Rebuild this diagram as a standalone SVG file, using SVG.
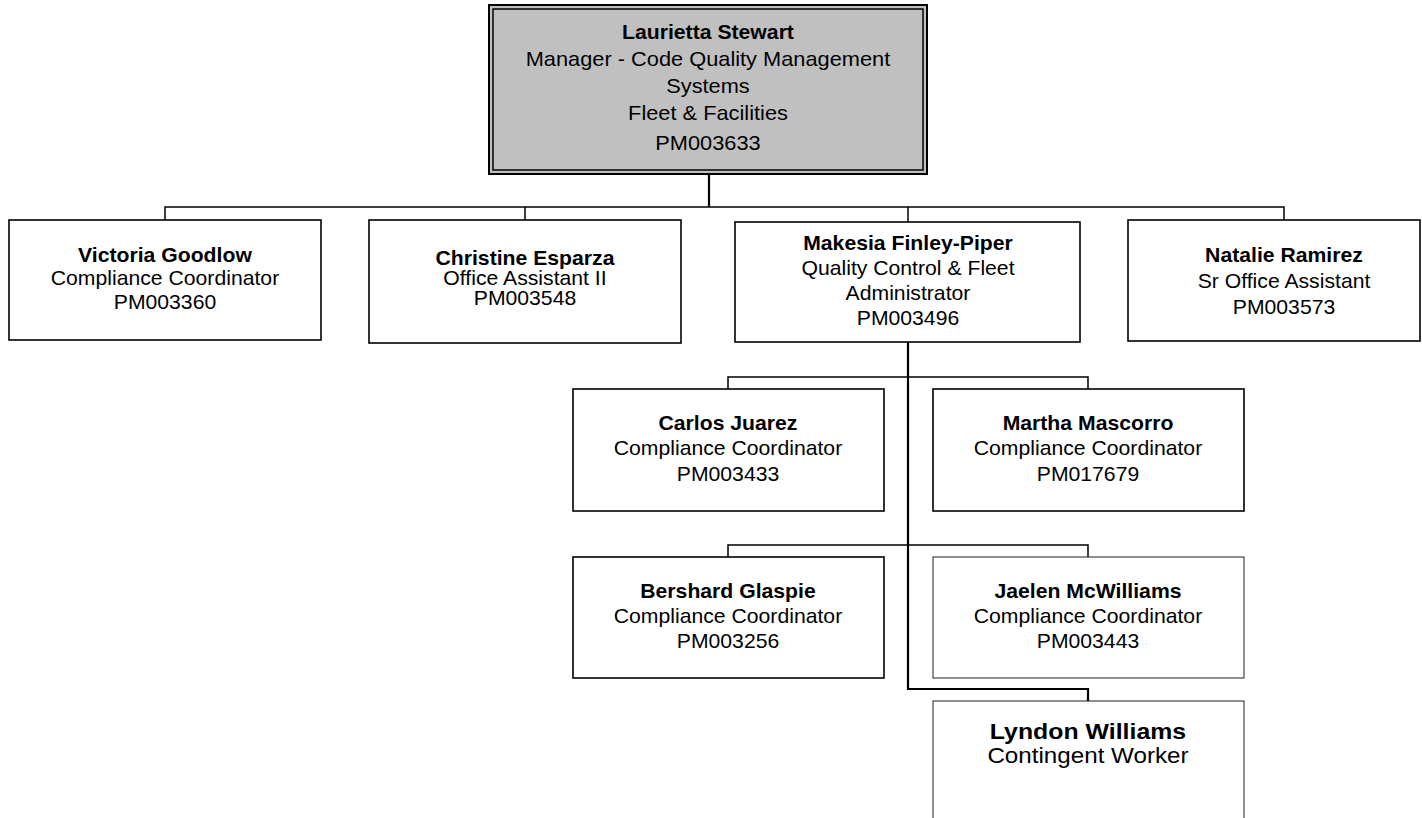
<svg xmlns="http://www.w3.org/2000/svg" width="1422" height="818" viewBox="0 0 1422 818">
<style>
.bg{fill:#ffffff}
.box{fill:#ffffff;stroke:#000000;stroke-width:1.6}
.thin{fill:#ffffff;stroke:#222222;stroke-width:1}
.root{fill:#c0c0c0;stroke:#000000;stroke-width:2}
.rooti{fill:none;stroke:#000000;stroke-width:1.5}
.ln{fill:none;stroke:#000000;stroke-width:1.5}
.lnb{fill:none;stroke:#000000;stroke-width:2.2}
text{font-family:"Liberation Sans",Arial,sans-serif;text-anchor:middle;fill:#000000;transform-box:fill-box;transform-origin:center;}
.t{font-size:20px;transform:scaleX(1.06)}
.tb{font-size:20px;font-weight:bold;transform:scaleX(1.06)}
.rt{font-size:20px;transform:scaleX(1.09)}
.rtb{font-size:20px;font-weight:bold;transform:scaleX(1.06)}
.lt{font-size:22px;transform:scaleX(1.1)}
.ltb{font-size:22px;font-weight:bold;transform:scaleX(1.13)}
</style>
<rect class="bg" x="0" y="0" width="1422" height="818"/>
<g id="connectors">
<path class="lnb" d="M709,174 V207"/>
<path class="ln" d="M165,220 V207 H1284 V220"/>
<path class="ln" d="M525,207 V220"/>
<path class="ln" d="M908,207 V222"/>
<path class="lnb" d="M908,342 V689 H1088 V701"/>
<path class="ln" d="M728,389 V377 H1088 V389"/>
<path class="ln" d="M728,557 V545 H1088 V557"/>
</g>
<g id="n-laurietta">
<rect class="root" x="489" y="5" width="438" height="169"/>
<rect class="rooti" x="493" y="9" width="430" height="161"/>
<text class="rtb" x="708" y="39">Laurietta Stewart</text>
<text class="rt" x="708" y="66">Manager - Code Quality Management</text>
<text class="rt" x="708" y="93">Systems</text>
<text class="rt" x="708" y="120">Fleet &amp; Facilities</text>
<text class="rt" x="708" y="150">PM003633</text>
</g>
<g id="n-victoria">
<rect class="box" x="9" y="220" width="312" height="120"/>
<text class="tb" x="165" y="262">Victoria Goodlow</text>
<text class="t" x="165" y="285">Compliance Coordinator</text>
<text class="t" x="165" y="309">PM003360</text>
</g>
<g id="n-christine">
<rect class="box" x="369" y="220" width="312" height="123"/>
<text class="tb" x="525" y="265">Christine Esparza</text>
<text class="t" x="525" y="285">Office Assistant II</text>
<text class="t" x="525" y="305">PM003548</text>
</g>
<g id="n-makesia">
<rect class="box" x="735" y="222" width="345" height="120"/>
<text class="tb" x="908" y="250">Makesia Finley-Piper</text>
<text class="t" x="908" y="275">Quality Control &amp; Fleet</text>
<text class="t" x="908" y="300">Administrator</text>
<text class="t" x="908" y="325">PM003496</text>
</g>
<g id="n-natalie">
<rect class="box" x="1128" y="220" width="292" height="121"/>
<text class="tb" x="1284" y="262">Natalie Ramirez</text>
<text class="t" x="1284" y="288">Sr Office Assistant</text>
<text class="t" x="1284" y="314">PM003573</text>
</g>
<g id="n-carlos">
<rect class="box" x="573" y="389" width="311" height="122"/>
<text class="tb" x="728" y="430">Carlos Juarez</text>
<text class="t" x="728" y="455">Compliance Coordinator</text>
<text class="t" x="728" y="481">PM003433</text>
</g>
<g id="n-martha">
<rect class="box" x="933" y="389" width="311" height="122"/>
<text class="tb" x="1088" y="430">Martha Mascorro</text>
<text class="t" x="1088" y="455">Compliance Coordinator</text>
<text class="t" x="1088" y="481">PM017679</text>
</g>
<g id="n-bershard">
<rect class="box" x="573" y="557" width="311" height="121"/>
<text class="tb" x="728" y="598">Bershard Glaspie</text>
<text class="t" x="728" y="623">Compliance Coordinator</text>
<text class="t" x="728" y="648">PM003256</text>
</g>
<g id="n-jaelen">
<rect class="thin" x="933" y="557" width="311" height="121"/>
<text class="tb" x="1088" y="598">Jaelen McWilliams</text>
<text class="t" x="1088" y="623">Compliance Coordinator</text>
<text class="t" x="1088" y="648">PM003443</text>
</g>
<g id="n-lyndon">
<rect class="thin" x="933" y="701" width="311" height="140"/>
<text class="ltb" x="1088" y="739">Lyndon Williams</text>
<text class="lt" x="1088" y="763">Contingent Worker</text>
</g>
</svg>
